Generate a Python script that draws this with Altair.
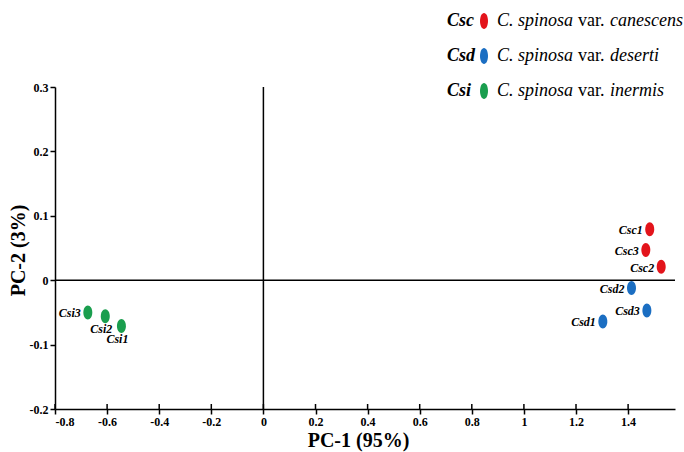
import altair as alt
import pandas as pd

# ---- data ----
samples = ["Csc1", "Csc2", "Csc3", "Csd1", "Csd2", "Csd3", "Csi1", "Csi2", "Csi3"]
groups = ["Csc", "Csc", "Csc", "Csd", "Csd", "Csd", "Csi", "Csi", "Csi"]
pc1 = [1.483, 1.527, 1.468, 1.303, 1.413, 1.472, -0.545, -0.607, -0.674]
pc2 = [0.079, 0.021, 0.047, -0.064, -0.012, -0.047, -0.071, -0.056, -0.050]

group_codes = ["Csc", "Csd", "Csi"]
group_colors = ["#e3141b", "#1b6ec2", "#1a9e4e"]
group_varieties = ["canescens", "deserti", "inermis"]

x_ticks = [-0.8, -0.6, -0.4, -0.2, 0, 0.2, 0.4, 0.6, 0.8, 1, 1.2, 1.4]
y_ticks = [-0.2, -0.1, 0, 0.1, 0.2, 0.3]
below_labels = ["Csi1", "Csi2"]

df = pd.DataFrame({"sample": samples, "group": groups, "pc1": pc1, "pc2": pc2})

# ---- layout ----
W, H = 620, 322
PAD_L, PAD_T = 55, 87
FONT = "Liberation Serif"
ELLIPSE = ("M0,-1C0.352,-1 0.64,-0.552 0.64,0C0.64,0.552 0.352,1 0,1"
           "C-0.352,1 -0.64,0.552 -0.64,0C-0.64,-0.552 -0.352,-1 0,-1Z")
ELLIPSE_NARROW = ("M0,-1C0.276,-1 0.5,-0.552 0.5,0C0.5,0.552 0.276,1 0,1"
                  "C-0.276,1 -0.5,0.552 -0.5,0C-0.5,-0.552 -0.276,-1 0,-1Z")

xscale = alt.Scale(domain=[-0.8, 1.58], nice=False, zero=False)
yscale = alt.Scale(domain=[-0.2, 0.3], nice=False, zero=False)

x_axis = alt.Axis(values=x_ticks, title="PC-1 (95%)", labelExpr="'' + datum.value",
                  titleX=303, titleY=31, titleBaseline="middle", titleAlign="center")
y_axis = alt.Axis(values=y_ticks, title="PC-2 (3%)", labelExpr="'' + datum.value",
                  titleX=-37, titleY=163, titleBaseline="middle", titleAlign="center",
                  titleAngle=270)

base = alt.Chart(df)

points = base.mark_point(shape=ELLIPSE, filled=True, size=196, opacity=1).encode(
    x=alt.X("pc1:Q", scale=xscale, axis=x_axis),
    y=alt.Y("pc2:Q", scale=yscale, axis=y_axis),
    color=alt.Color("group:N", scale=alt.Scale(domain=group_codes, range=group_colors), legend=None),
)

label_style = dict(font=FONT, fontStyle="italic", fontWeight="bold", fontSize=12, color="black")

left_labels = base.transform_filter(
    f"indexof({below_labels}, datum.sample) < 0"
).mark_text(align="right", baseline="middle", dx=-7, dy=1, **label_style).encode(
    x=alt.X("pc1:Q", scale=xscale), y=alt.Y("pc2:Q", scale=yscale), text="sample:N"
)

under_labels = base.transform_filter(
    f"indexof({below_labels}, datum.sample) >= 0"
).mark_text(align="center", baseline="top", dx=-4, dy=8, **label_style).encode(
    x=alt.X("pc1:Q", scale=xscale), y=alt.Y("pc2:Q", scale=yscale), text="sample:N"
)

vline = alt.Chart(alt.Data(values=[{"v": 0}])).mark_rule(color="black", strokeWidth=1.5).encode(
    x=alt.X("v:Q", scale=xscale)
)
hline = alt.Chart(alt.Data(values=[{"v": 0}])).mark_rule(color="black", strokeWidth=1.5).encode(
    y=alt.Y("v:Q", scale=yscale)
)
inner_ticks = alt.Chart(pd.DataFrame({"t": x_ticks})).mark_rule(color="black", strokeWidth=1.5).encode(
    x=alt.X("t:Q", scale=xscale), y=alt.value(H - 5), y2=alt.value(H)
)

# ---- custom legend (top right) ----
one = alt.Data(values=[{}])
legend_layers = []
row_y = [-66, -31, 4]
LFS = 18
for code, color, var, ry in zip(group_codes, group_colors, group_varieties, row_y):
    legend_layers.append(
        alt.Chart(one).mark_text(align="left", baseline="middle", font=FONT, fontStyle="italic",
                                 fontWeight="bold", fontSize=LFS, color="black")
        .encode(x=alt.value(392), y=alt.value(ry), text=alt.value(code))
    )
    legend_layers.append(
        alt.Chart(one).mark_point(shape=ELLIPSE_NARROW, filled=True, size=256, opacity=1, color=color)
        .encode(x=alt.value(429), y=alt.value(ry))
    )
    legend_layers.append(
        alt.Chart(one).mark_text(align="left", baseline="middle", font=FONT, fontStyle="italic",
                                 fontSize=LFS, color="black")
        .encode(x=alt.value(442), y=alt.value(ry), text=alt.value("C. spinosa"))
    )
    legend_layers.append(
        alt.Chart(one).mark_text(align="left", baseline="middle", font=FONT,
                                 fontSize=LFS, color="black")
        .encode(x=alt.value(523), y=alt.value(ry), text=alt.value("var."))
    )
    legend_layers.append(
        alt.Chart(one).mark_text(align="left", baseline="middle", font=FONT, fontStyle="italic",
                                 fontSize=LFS, color="black")
        .encode(x=alt.value(555), y=alt.value(ry), text=alt.value(var))
    )

chart = alt.layer(hline, vline, inner_ticks, points, left_labels, under_labels, *legend_layers).properties(
    width=W, height=H,
    padding={"left": PAD_L, "top": PAD_T, "right": 684 - PAD_L - W, "bottom": 452 - PAD_T - H},
    autosize=alt.AutoSizeParams(type="none"),
    background="white",
).configure_view(stroke=None).configure_axis(
    grid=False, domainColor="black", domainWidth=1.5, tickColor="black", tickWidth=1.5, tickSize=5,
    labelFont=FONT, labelFontWeight="bold", labelFontSize=12, labelColor="black", labelPadding=2,
    titleFont=FONT, titleFontWeight="bold", titleFontSize=20, titleColor="black",
)

chart.save("out.html", embed_options={"renderer": "svg", "actions": False})
